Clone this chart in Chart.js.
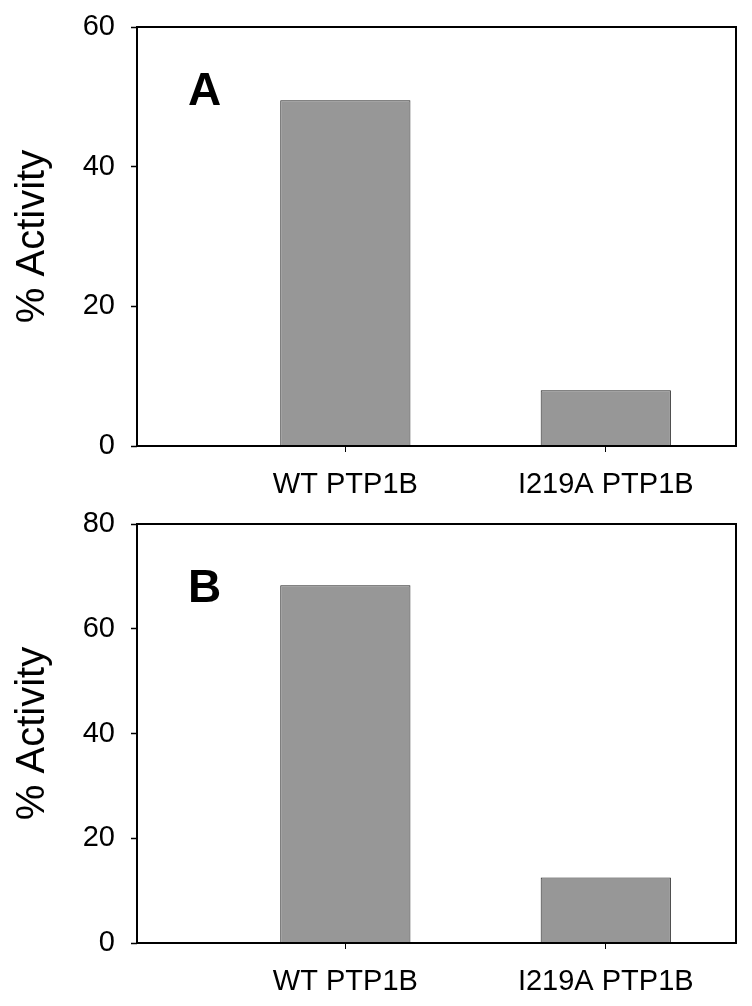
<!DOCTYPE html>
<html>
<head>
<meta charset="utf-8">
<script src="https://cdn.jsdelivr.net/npm/chart.js@4/dist/chart.umd.min.js"></script>
<style>
    html, body { margin: 0; padding: 0; background: #ffffff; }
    #wrap { position: relative; width: 752px; height: 1006px; overflow: hidden; }
    canvas { position: absolute; left: 0; }
</style>
</head>
<body>
<div id="wrap">
    <canvas id="panel-a" width="752" height="497" style="top:0px"></canvas>
    <canvas id="panel-b" width="752" height="509" style="top:497px"></canvas>
</div>
<script>
// --- data ---
const categories = ['WT PTP1B', 'I219A PTP1B'];
const categoryPositions = [1, 2];
const xRange = [0.2, 2.5];
const panelLetters = ['A', 'B'];
const activityA = [49.5, 8.0];
const activityB = [68.3, 12.5];
const yMaxA = 60;
const yMaxB = 80;
const yStep = 20;
const yTitle = '% Activity';

const FONT = "'Liberation Sans', Arial, Helvetica, sans-serif";

// Draws the box round the plot area and the panel letter
const framePlugin = {
    id: 'frame',
    afterDatasetsDraw(chart, args, opts) {
        const { ctx, chartArea } = chart;
        ctx.save();
        ctx.strokeStyle = '#000';
        ctx.lineWidth = 2;
        ctx.strokeRect(chartArea.left, chartArea.top, chartArea.right - chartArea.left, chartArea.bottom - chartArea.top);
        ctx.fillStyle = '#000';
        ctx.font = 'bold 46px ' + FONT;
        ctx.textBaseline = 'alphabetic';
        ctx.textAlign = 'left';
        ctx.fillText(opts.letter, chartArea.left + 51, chartArea.top + 78);
        ctx.restore();
    }
};

function makePanel(canvasId, letter, values, yMax) {
    const canvas = document.getElementById(canvasId);
    const axisHeight = canvas.height - 446;

    return new Chart(canvas.getContext('2d'), {
        type: 'bar',
        data: {
            datasets: [{
                data: values.map((v, i) => ({ x: categoryPositions[i], y: v })),
                backgroundColor: '#979797',
                borderColor: '#222',
                borderWidth: 1,
                categoryPercentage: 1,
                barPercentage: 0.5
            }]
        },
        plugins: [framePlugin],
        options: {
            responsive: false,
            animation: false,
            layout: { padding: { top: 27, right: 16, left: 0, bottom: 0 } },
            plugins: {
                legend: { display: false },
                tooltip: { enabled: false },
                frame: { letter: letter }
            },
            scales: {
                x: {
                    type: 'linear',
                    min: xRange[0],
                    max: xRange[1],
                    offset: false,
                    grid: { offset: false, drawOnChartArea: false, drawTicks: true, tickLength: 6, tickColor: '#000', tickWidth: 1 },
                    border: { display: false },
                    afterBuildTicks: (scale) => {
                        scale.ticks = categoryPositions.map(v => ({ value: v }));
                    },
                    afterFit: (scale) => { scale.height = axisHeight; },
                    ticks: {
                        color: '#000',
                        padding: 16,
                        maxRotation: 0,
                        autoSkip: false,
                        font: { family: FONT, size: 29 },
                        callback: (value, index) => categories[index]
                    }
                },
                y: {
                    min: 0,
                    max: yMax,
                    grid: { drawOnChartArea: false, drawTicks: true, tickLength: 6, tickColor: '#000', tickWidth: 1.5 },
                    border: { display: false },
                    // fixed width; label padding should not push the plot top down
                    afterFit: (scale) => {
                        scale.width = 137;
                        scale.paddingTop = 10;
                        scale.paddingBottom = 10;
                    },
                    ticks: {
                        stepSize: yStep,
                        color: '#000',
                        padding: 16,
                        font: { family: FONT, size: 29 }
                    },
                    title: {
                        display: true,
                        text: yTitle,
                        color: '#000',
                        padding: { top: 9, bottom: 0 },
                        font: { family: FONT, size: 40 }
                    }
                }
            }
        }
    });
}

makePanel('panel-a', panelLetters[0], activityA, yMaxA);
makePanel('panel-b', panelLetters[1], activityB, yMaxB);
</script>
</body>
</html>
